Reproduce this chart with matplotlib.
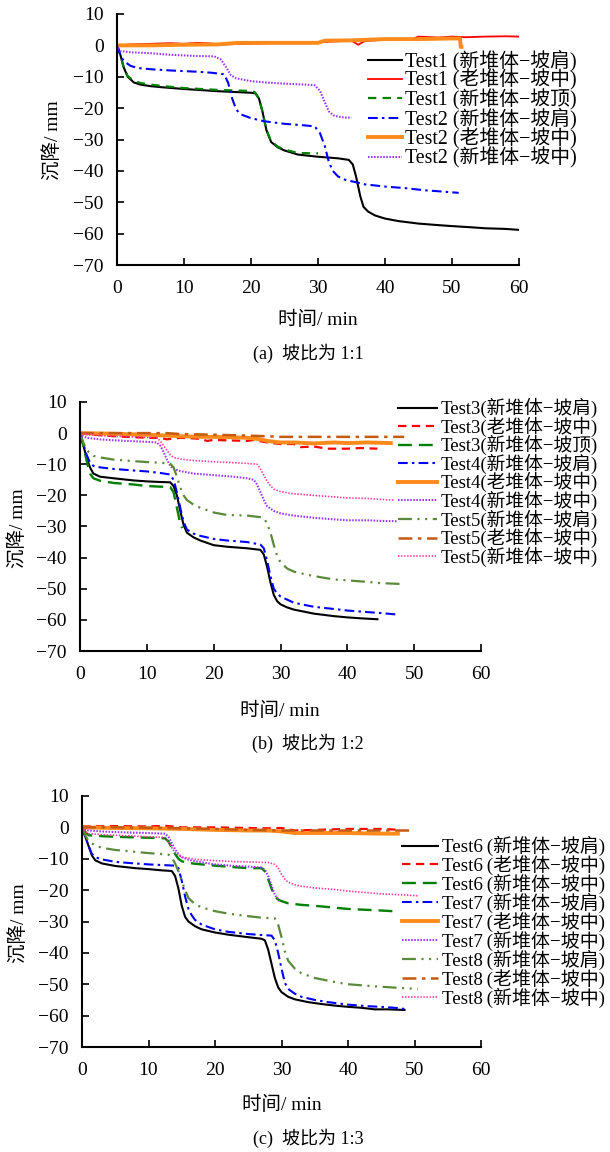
import matplotlib
matplotlib.use("Agg")
import matplotlib.pyplot as plt

plt.rcParams['font.family'] = ['Liberation Serif', 'Noto Sans CJK SC', 'DejaVu Sans']
plt.rcParams['lines.scale_dashes'] = False
plt.rcParams['axes.unicode_minus'] = True

# ---------------- Panel (a): slope 1:1 ----------------
a_t1_shoulder_t = [0, 0.5, 1, 1.6, 2.5, 3.5, 5, 7, 10, 15, 20, 20.7, 21.2, 21.7, 22.3, 23, 24, 25, 27, 30, 33, 34.6, 35.2, 35.7, 36.3, 36.8, 37.5, 38.5, 40, 42, 45, 48, 50, 53, 55, 58, 60]
a_t1_shoulder_y = [0, -3, -7, -10, -11.8, -12.5, -13, -13.4, -13.9, -14.6, -15.1, -15.3, -17, -21, -27, -30.8, -32.5, -33.5, -34.8, -35.5, -36, -36.5, -38, -42, -48, -51.5, -53, -54.2, -55.2, -56, -56.8, -57.3, -57.6, -58, -58.3, -58.5, -58.8]
a_t1_oldmid_t = [0, 2, 5, 8, 10, 12, 14, 15, 20, 25, 30, 32, 35, 36, 37, 40, 44, 45, 48, 50, 52, 55, 58, 60]
a_t1_oldmid_y = [0, 0.3, 0.5, 0.7, 0.5, 0.8, 0.6, 0.3, 0.5, 0.8, 1.0, 1.2, 1.5, 0.2, 1.4, 1.8, 2.0, 2.8, 2.5, 2.8, 2.6, 2.8, 2.9, 2.8]
a_t1_top_t = [0, 0.5, 1, 1.6, 2.5, 3.5, 5, 7, 10, 15, 19.5, 20.5, 21.2, 21.7, 22.3, 23, 24, 25, 27, 29, 30]
a_t1_top_y = [0, -3, -7, -9.8, -11.3, -12, -12.5, -13, -13.6, -14.2, -14.5, -14.8, -17, -21, -27, -30.5, -32.3, -33.2, -34.3, -34.4, -34.4]
a_t2_shoulder_t = [0, 0.5, 1, 2, 3, 5, 8, 10, 12, 14, 16, 16.6, 17.2, 17.8, 18.5, 20, 22, 25, 28, 29.5, 30.3, 31, 31.6, 32.2, 33, 34, 35, 37, 40, 43, 46, 48, 51]
a_t2_shoulder_y = [0, -3, -5, -6.5, -7.2, -7.6, -8, -8.2, -8.4, -8.7, -9.2, -12, -17, -20.5, -22, -23.2, -24.2, -25, -25.5, -25.8, -28, -32, -37, -40, -41.8, -42.8, -43.3, -44.3, -45, -45.5, -46.2, -46.5, -47]
a_t2_oldmid_t = [0, 5, 10, 15, 18, 20, 25, 30, 31, 35, 40, 45, 50, 51.2, 51.3, 51.4]
a_t2_oldmid_y = [0, 0, 0.2, 0.3, 0.8, 0.8, 0.8, 0.8, 1.5, 1.6, 2.0, 2.0, 2.2, 2.2, -0.5, -0.5]
a_t2_newmid_t = [0, 0.5, 2, 5, 8, 10, 12, 14.5, 15.5, 16.3, 17, 17.8, 19, 20, 22, 25, 28, 29.5, 30.3, 31, 31.6, 32.3, 33, 34, 35]
a_t2_newmid_y = [0, -1.8, -2.2, -2.5, -3, -3.2, -3.4, -3.5, -4.5, -7, -9.5, -10.5, -11, -11.4, -11.8, -12.2, -12.5, -12.7, -14.5, -18, -21, -22.3, -22.7, -23, -23]

# ---------------- Panel (b): slope 1:2 ----------------
b_t3_shoulder_t = [0, 0.5, 1, 1.5, 2, 3, 5, 8, 10, 12, 13.5, 14, 14.5, 15, 15.5, 16, 17, 18, 20, 22, 25, 27, 27.5, 28, 28.5, 29, 29.5, 30, 31, 32, 35, 38, 40, 42, 44.5]
b_t3_shoulder_y = [0, -4, -8, -11, -13, -14, -14.5, -15.2, -15.5, -15.7, -15.8, -17, -20, -25, -29.5, -32, -33.5, -34.5, -36, -36.5, -37, -37.5, -39, -43, -48, -52, -54, -55, -56, -56.7, -58, -58.8, -59.2, -59.5, -59.8]
b_t3_oldmid_t = [0, 2, 5, 10, 12, 13, 15, 18, 19, 20, 25, 26, 28, 30, 32, 33, 35, 37, 40, 42, 44.5]
b_t3_oldmid_y = [0, -0.5, -1, -1.5, -1.5, -2, -1.5, -1.8, -2.5, -2.2, -2.5, -2.2, -3, -3.5, -3.5, -4.5, -4.3, -5, -5, -4.8, -5]
b_t3_top_t = [0, 0.5, 1, 1.5, 2, 3, 5, 8, 10, 12, 13.5, 14, 14.5, 15, 15.3]
b_t3_top_y = [0, -4, -9, -13, -14.5, -15.3, -16, -16.5, -17, -17.2, -17.3, -19, -24, -29, -30.5]
b_t4_shoulder_t = [0, 0.5, 1, 1.5, 2, 3, 5, 8, 10, 12, 13.5, 14, 14.5, 15, 15.5, 16, 17, 18, 20, 22, 25, 27, 27.5, 28, 28.5, 29, 29.5, 30, 31, 32, 35, 38, 40, 43, 45, 47.5]
b_t4_shoulder_y = [0, -3.5, -7, -9.5, -10.5, -11, -11.5, -12, -12.3, -12.8, -13.3, -15, -19, -24, -28.5, -31, -32.3, -33, -34, -34.5, -35, -35.8, -37, -41, -46, -50, -51.5, -52.5, -53.5, -54.5, -55.8, -56.5, -57, -57.5, -57.8, -58.3]
b_t4_oldmid_t = [0, 5, 10, 13, 15, 18, 20, 22, 25, 27, 28, 30, 32, 35, 38, 40, 43, 46.5]
b_t4_oldmid_y = [0, -0.2, -0.5, -0.8, -1, -1.2, -1.2, -1.3, -1.5, -2, -2.5, -3, -3, -3.3, -3, -3.2, -3, -3.2]
b_t4_newmid_t = [0, 0.5, 1, 3, 5, 8, 10, 11.5, 12, 12.5, 13, 13.5, 14, 15, 17, 20, 23, 25, 26, 26.5, 27, 27.5, 28, 29, 30, 32, 35, 38, 40, 43, 45, 47.5]
b_t4_newmid_y = [0, -1, -1.5, -2, -2.3, -2.6, -2.8, -3, -4, -6, -8.5, -10.5, -11.5, -12.2, -13, -13.5, -14, -14.5, -15, -16.5, -19, -21.5, -23.5, -25, -25.8, -26.5, -27.2, -27.7, -28, -28, -28.2, -28.3]
b_t5_shoulder_t = [0, 0.5, 1, 2, 3, 5, 8, 10, 12, 13.5, 14, 14.5, 15, 15.5, 16, 17, 18, 20, 22, 25, 27, 27.5, 28, 28.5, 29, 29.5, 30, 31, 32, 34, 36, 38, 40, 43, 45, 48.5]
b_t5_shoulder_y = [0, -3, -5.5, -7.3, -7.8, -8.5, -9, -9.3, -9.5, -9.8, -11, -14, -17.5, -20, -21.5, -23, -24, -25.5, -26.3, -26.5, -27, -27.3, -29, -32, -36, -39.5, -41.5, -43.5, -44.5, -45.5, -46.3, -47, -47.3, -47.8, -48.2, -48.5]
b_t5_oldmid_t = [0, 5, 10, 13, 15, 20, 25, 28, 30, 35, 40, 45, 48.5]
b_t5_oldmid_y = [0, 0, 0, 0, -0.3, -0.5, -0.8, -1, -1.2, -1.2, -1.2, -1.2, -1.2]
b_t5_newmid_t = [0, 1, 3, 5, 8, 11.5, 12, 12.5, 13, 13.5, 14, 15, 17, 20, 23, 25, 26.5, 27, 27.5, 28, 28.5, 29, 30, 32, 35, 38, 40, 43, 45, 47]
b_t5_newmid_y = [0, -0.5, -0.8, -1, -1.2, -1.5, -2.5, -4, -5.5, -7, -7.8, -8.3, -8.8, -9.2, -9.5, -9.7, -10, -11.5, -13.5, -15.5, -17, -18, -18.8, -19.5, -20, -20.5, -20.8, -21, -21.3, -21.5]

# ---------------- Panel (c): slope 1:3 ----------------
c_t6_shoulder_t = [0, 0.5, 1, 1.5, 2, 3, 5, 8, 10, 12, 13.5, 14, 14.5, 15, 15.5, 16, 17, 18, 20, 22, 25, 27, 27.5, 28, 28.5, 29, 29.5, 30, 31, 32, 34, 36, 38, 40, 42, 44, 46, 48.5]
c_t6_shoulder_y = [0, -3, -6, -9, -10.5, -11.5, -12.3, -13, -13.3, -13.7, -13.9, -15.5, -19.5, -25, -28.5, -30, -31.5, -32.5, -33.5, -34.2, -35, -35.5, -36, -39, -43.5, -48, -51, -52.5, -54, -54.8, -55.7, -56.3, -56.8, -57.2, -57.5, -58, -58, -58.2]
c_t6_oldmid_t = [0, 5, 10, 12.5, 15, 20, 25, 28, 30, 32, 35, 40, 45, 48]
c_t6_oldmid_y = [0.3, 0.4, 0.3, 0.5, 0, 0, -0.2, -0.3, -0.2, -1, -0.8, -0.5, -0.5, -0.8]
c_t6_newmid_t = [0, 0.5, 1, 2, 5, 8, 10, 12.5, 13, 13.5, 14, 14.5, 15, 16, 17, 20, 23, 25, 27, 27.5, 28, 28.5, 29, 29.5, 30, 31, 33, 35, 38, 40, 43, 45, 47.5]
c_t6_newmid_y = [0, -1.5, -2.5, -2.7, -3, -3.2, -3.3, -3.5, -4.5, -6.5, -8.5, -10, -10.8, -11.3, -11.6, -12.2, -12.7, -13, -13, -14, -16.5, -19.5, -22, -23, -23.5, -24.2, -24.7, -25, -25.6, -26, -26.3, -26.5, -26.8]
c_t7_shoulder_t = [0, 0.5, 1, 1.5, 2, 3, 5, 8, 10, 12, 14, 14.5, 15, 15.5, 16, 16.5, 17, 18, 20, 22, 25, 27, 28.5, 29, 29.5, 30, 30.5, 31, 32, 33, 35, 37, 40, 43, 45, 47, 49]
c_t7_shoulder_y = [0, -3, -6, -8.5, -9.5, -10.2, -11, -11.5, -11.8, -12, -12.2, -13, -17, -22, -26, -28, -29.5, -31, -32.5, -33.3, -34, -34.3, -34.5, -36, -40, -45, -49.5, -51.5, -53, -54, -55, -55.7, -56.5, -57, -57.2, -57.5, -58]
c_t7_oldmid_t = [0, 5, 10, 15, 20, 25, 28, 30, 32, 35, 40, 45, 47.5]
c_t7_oldmid_y = [0, -0.2, -0.3, -0.5, -0.8, -1, -1, -1.3, -1.8, -1.8, -1.8, -2, -2]
c_t7_newmid_t = [0, 0.5, 1, 3, 5, 8, 10, 12.5, 13, 13.5, 14, 14.5, 15, 16, 17, 20, 23, 25, 27, 27.5, 28, 28.5, 29, 29.7]
c_t7_newmid_y = [0, -0.8, -1, -1.3, -1.5, -1.7, -1.8, -2, -3, -5, -7, -8.5, -9.5, -10.3, -10.8, -11.8, -12.3, -12.5, -12.8, -13.5, -15.5, -18.5, -21.5, -23.5]
c_t8_shoulder_t = [0, 0.5, 1, 2, 3, 5, 8, 10, 12, 13, 13.5, 14, 14.5, 15, 15.5, 16, 17, 18, 20, 22, 25, 27, 29, 29.5, 30, 30.5, 31, 32, 33, 35, 38, 40, 43, 45, 48, 50.5]
c_t8_shoulder_y = [0, -2.5, -4.5, -5.8, -6.5, -7.2, -7.8, -8.2, -8.5, -8.7, -9.5, -11.5, -14, -17, -20, -22.5, -24.5, -25.5, -26.7, -27.5, -28.3, -28.8, -29, -31, -35, -39.5, -42.5, -45, -46.5, -48, -49.3, -50, -50.5, -50.8, -51.2, -51.5]
c_t8_oldmid_t = [0, 5, 10, 15, 20, 25, 30, 35, 40, 45, 50]
c_t8_oldmid_y = [0, 0, -0.1, -0.3, -0.5, -0.8, -1, -1, -1, -1, -1]
c_t8_newmid_t = [0, 0.5, 1, 3, 5, 8, 10, 12.5, 13, 13.5, 14, 14.5, 15, 16, 17, 20, 23, 25, 28, 29, 29.5, 30, 30.5, 31, 32, 33, 35, 38, 40, 43, 45, 48, 50.5]
c_t8_newmid_y = [0, -1.5, -2, -2.3, -2.5, -2.8, -3, -3.2, -4.5, -6.5, -8, -9, -9.5, -9.8, -10.2, -10.6, -10.9, -11, -11.2, -11.8, -13, -15, -16.5, -17.5, -18.3, -18.8, -19.3, -19.8, -20.3, -20.8, -21.2, -21.5, -21.8]

x_ticks = [0, 10, 20, 30, 40, 50, 60]
y_ticks = [-70, -60, -50, -40, -30, -20, -10, 0, 10]
x_label = "时间/ min"
y_label = "沉降/ mm"
captions = ["(a)  坡比为 1:1", "(b)  坡比为 1:2", "(c)  坡比为 1:3"]

# ---------------- styles ----------------
BLACK, RED, GREEN, BLUE = '#000000', '#FF0000', '#008000', '#0000FF'
ORANGE, PURPLE, OLIVE, BROWN, PINK = '#FF8A1C', '#9933FF', '#5A8A3A', '#C55A11', '#FF3399'
st_solid = dict(color=BLACK, lw=1.5, ls='-')
st_red_solid = dict(color=RED, lw=1.3, ls='-')
st_red_dash = dict(color=RED, lw=1.6, ls=(0, (6, 4)))
st_green_dash_a = dict(color=GREEN, lw=1.6, ls=(0, (6, 4.5)))
st_green_dash = dict(color=GREEN, lw=1.7, ls=(0, (10, 5)))
st_blue_dd = dict(color=BLUE, lw=1.5, ls=(0, (7, 3, 1.8, 3)))
st_orange = dict(color=ORANGE, lw=2.8, ls='-')
st_purple_dot = dict(color=PURPLE, lw=1.5, ls=(0, (1.1, 1.1)))
st_olive = dict(color=OLIVE, lw=1.6, ls=(0, (10, 4, 1.5, 4, 1.5, 4)))
st_brown = dict(color=BROWN, lw=1.8, ls=(0, (10, 4, 2.5, 4)))
st_pink_dot = dict(color=PINK, lw=1.2, ls=(0, (1, 1.2)))

SP = "\u2009"

panels = [
    dict(rect=[117/610, 1-265/1152, 402/610, 251/1152],
         series=[
             (a_t1_shoulder_t, a_t1_shoulder_y, "Test1 (新堆体−坡肩)", st_solid),
             (a_t1_oldmid_t, a_t1_oldmid_y, "Test1 (老堆体−坡中)", st_red_solid),
             (a_t1_top_t, a_t1_top_y, "Test1 (新堆体−坡顶)", st_green_dash_a),
             (a_t2_shoulder_t, a_t2_shoulder_y, "Test2 (新堆体−坡肩)", st_blue_dd),
             (a_t2_oldmid_t, a_t2_oldmid_y, "Test2 (老堆体−坡中)", st_orange),
             (a_t2_newmid_t, a_t2_newmid_y, "Test2 (新堆体−坡中)", st_purple_dot),
         ],
         leg=(368, 50), hl=1.7, fs=14.3, ls=-0.1, ylab=(53, 140), xlab=(318, 320), cap=(308, 353)),
    dict(rect=[80/610, 1-651/1152, 401/610, 249/1152],
         series=[
             (b_t3_shoulder_t, b_t3_shoulder_y, "Test3(新堆体−坡肩)", st_solid),
             (b_t3_oldmid_t, b_t3_oldmid_y, "Test3(老堆体−坡中)", st_red_dash),
             (b_t3_top_t, b_t3_top_y, "Test3(新堆体−坡顶)", st_green_dash),
             (b_t4_shoulder_t, b_t4_shoulder_y, "Test4(新堆体−坡肩)", st_blue_dd),
             (b_t4_oldmid_t, b_t4_oldmid_y, "Test4(老堆体−坡中)", st_orange),
             (b_t4_newmid_t, b_t4_newmid_y, "Test4(新堆体−坡中)", st_purple_dot),
             (b_t5_shoulder_t, b_t5_shoulder_y, "Test5(新堆体−坡肩)", st_olive),
             (b_t5_oldmid_t, b_t5_oldmid_y, "Test5(老堆体−坡中)", st_brown),
             (b_t5_newmid_t, b_t5_newmid_y, "Test5(新堆体−坡中)", st_pink_dot),
         ],
         leg=(398, 398), hl=2.1, fs=13.5, ls=-0.09, ylab=(18, 528), xlab=(280, 711), cap=(308, 743)),
    dict(rect=[82/610, 1-1047/1152, 399/610, 251/1152],
         series=[
             (c_t6_shoulder_t, c_t6_shoulder_y, "Test6" + SP + "(新堆体−坡肩)", st_solid),
             (c_t6_oldmid_t, c_t6_oldmid_y, "Test6" + SP + "(老堆体−坡中)", st_red_dash),
             (c_t6_newmid_t, c_t6_newmid_y, "Test6" + SP + "(新堆体−坡中)", st_green_dash),
             (c_t7_shoulder_t, c_t7_shoulder_y, "Test7" + SP + "(新堆体−坡肩)", st_blue_dd),
             (c_t7_oldmid_t, c_t7_oldmid_y, "Test7" + SP + "(老堆体−坡中)", st_orange),
             (c_t7_newmid_t, c_t7_newmid_y, "Test7" + SP + "(新堆体−坡中)", st_purple_dot),
             (c_t8_shoulder_t, c_t8_shoulder_y, "Test8" + SP + "(新堆体−坡肩)", st_olive),
             (c_t8_oldmid_t, c_t8_oldmid_y, "Test8" + SP + "(老堆体−坡中)", st_brown),
             (c_t8_newmid_t, c_t8_newmid_y, "Test8" + SP + "(新堆体−坡中)", st_pink_dot),
         ],
         leg=(402, 836), hl=1.9, fs=13.7, ls=-0.06, ylab=(19, 923), xlab=(282, 1105), cap=(308, 1138)),
]

W, H = 610, 1152
fig = plt.figure(figsize=(W/100, H/100), dpi=100)
TICK_FS = 14

for i, p in enumerate(panels):
    ax = fig.add_axes(p['rect'])
    for t, y, lab, st in p['series']:
        ax.plot(t, y, label=lab, **st)
    ax.set_xlim(0, 60)
    ax.set_ylim(-70, 10)
    ax.set_xticks(x_ticks)
    ax.set_yticks(y_ticks)
    for s in ['top', 'right']:
        ax.spines[s].set_visible(False)
    for s in ['left', 'bottom']:
        ax.spines[s].set_linewidth(1.5)
    ax.tick_params(direction='in', length=5, width=1.2, labelsize=TICK_FS)
    ax.tick_params(axis='x', pad=10.5)
    ax.tick_params(axis='y', pad=9.5)
    ax.patch.set_alpha(0)
    lx, ly = p['leg']
    ax.legend(loc='upper left', bbox_to_anchor=(lx/W, 1-ly/H), bbox_transform=fig.transFigure,
              frameon=False, fontsize=p['fs'], borderpad=0, borderaxespad=0,
              handlelength=p['hl'], handletextpad=0.18, labelspacing=p['ls'])
    fig.text(p['ylab'][0]/W, 1-p['ylab'][1]/H, y_label, rotation=90, ha='center', va='center', fontsize=14)
    fig.text(p['xlab'][0]/W, 1-p['xlab'][1]/H, x_label, ha='center', va='center', fontsize=14)
    fig.text(p['cap'][0]/W, 1-p['cap'][1]/H, captions[i], ha='center', va='center', fontsize=13)

fig.savefig("out.png", dpi=100)
